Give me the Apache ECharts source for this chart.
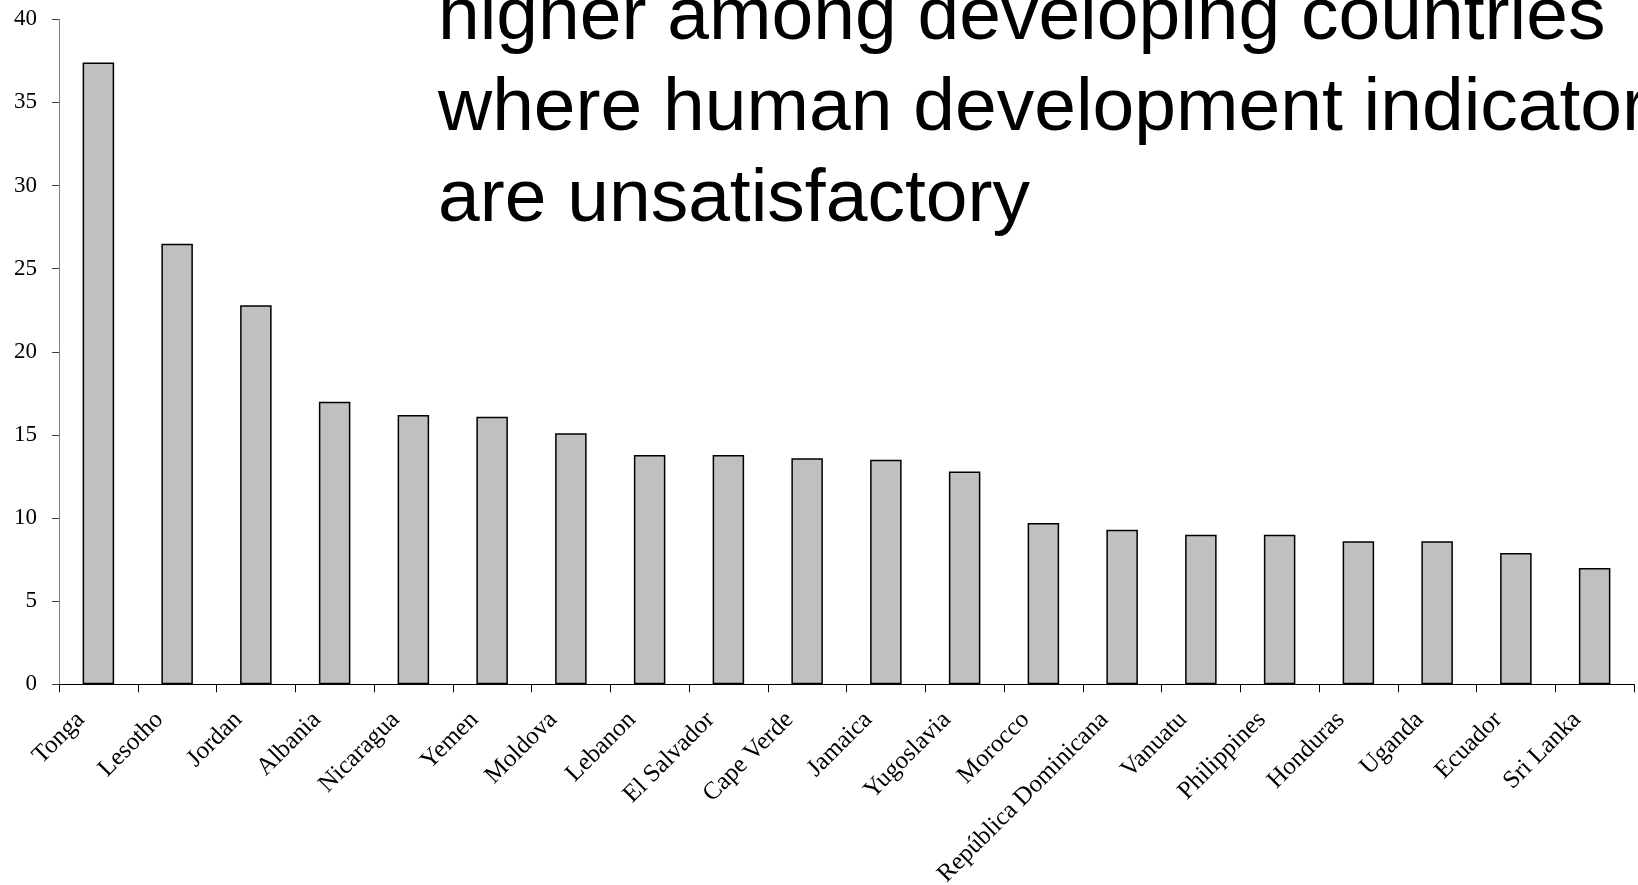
<!DOCTYPE html>
<html>
<head>
<meta charset="utf-8">
<script src="https://cdn.jsdelivr.net/npm/echarts@6/dist/echarts.min.js"></script>
<style>
html,body{margin:0;padding:0;background:#fff;}
#chart{width:1638px;height:885px;}
</style>
</head>
<body>
<div id="chart"></div>
<script>
const categories = ["Tonga","Lesotho","Jordan","Albania","Nicaragua","Yemen","Moldova","Lebanon","El Salvador","Cape Verde","Jamaica","Yugoslavia","Morocco","República Dominicana","Vanuatu","Philippines","Honduras","Uganda","Ecuador","Sri Lanka"];
const values = [37.4,26.5,22.8,17.0,16.2,16.1,15.1,13.8,13.8,13.6,13.5,12.8,9.7,9.3,9.0,9.0,8.6,8.6,7.9,7.0];
const yTicks = [0,5,10,15,20,25,30,35,40];
const titleLines = ["higher among developing countries","where human development indicators","are unsatisfactory"];

const chart = echarts.init(document.getElementById('chart'));
chart.setOption({
  animation: false,
  backgroundColor: '#ffffff',
  grid: {left: 59, right: 4, top: 19.3, bottom: 200.7, containLabel: false, outerBoundsMode: 'none'},
  xAxis: {
    type: 'category',
    data: categories,
    axisLine: {lineStyle: {color: '#000', width: 1}},
    axisTick: {show: true, length: 8, lineStyle: {color: '#000'}},
    axisLabel: {
      interval: 0,
      rotate: 45,
      margin: 14,
      padding: [0, 25, 0, 0],
      fontFamily: 'Liberation Serif',
      fontSize: 25,
      color: '#000'
    }
  },
  yAxis: {
    type: 'value',
    min: yTicks[0],
    max: yTicks[yTicks.length - 1],
    interval: 5,
    splitLine: {show: false},
    axisLine: {show: true, lineStyle: {color: '#808080', width: 1}},
    axisTick: {show: true, length: 7, lineStyle: {color: '#404040'}},
    axisLabel: {
      margin: 22,
      fontFamily: 'Liberation Serif',
      fontSize: 23,
      color: '#000'
    }
  },
  series: [{
    type: 'bar',
    data: values,
    barWidth: '40%',
    itemStyle: {color: '#c0c0c0', borderColor: '#000', borderWidth: 1.5}
  }],
  graphic: [{
    type: 'text',
    left: 438,
    top: -27,
    silent: true,
    style: {
      text: titleLines.join('\n'),
      font: '75px "Liberation Sans", Arial, sans-serif',
      lineHeight: 91,
      fill: '#000'
    }
  }]
});
</script>
</body>
</html>
